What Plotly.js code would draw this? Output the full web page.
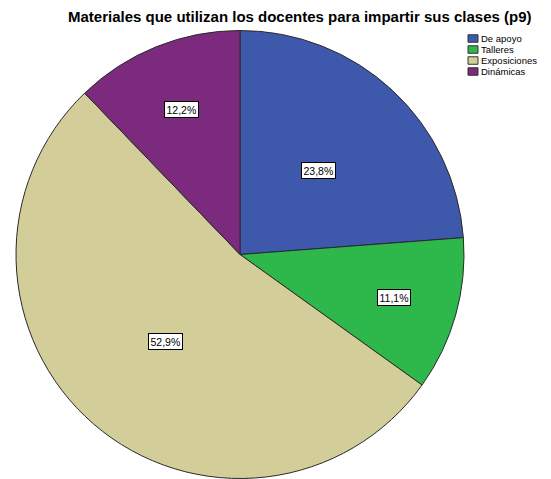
<!DOCTYPE html>
<html>
<head>
<meta charset="utf-8">
<script src="https://cdn.plot.ly/plotly-3.0.1.min.js"></script>
<style>html,body{margin:0;padding:0;background:#fff;}#chart{width:551px;height:479px;}</style>
</head>
<body>
<div id="chart"></div>
<script>
// Data
var categories = ["De apoyo", "Talleres", "Exposiciones", "Dinámicas"];
var values = [23.8, 11.1, 52.9, 12.2];
var colors = ["#3E58AB", "#2EB84B", "#D3CE99", "#7B2A7D"];
var titleText = "Materiales que utilizan los docentes para impartir sus clases (p9)";

// Layout constants
var W = 551, H = 479;
var CX = 240, CY = 254.5, R = 224;
var labelRadius = [0.513, 0.714, 0.511, 0.70]; // fraction of radius where each label box sits

var domX = [(CX - R) / W, (CX + R) / W];
var domY = [1 - (CY + R) / H, 1 - (CY - R) / H];

var trace = {
  type: "pie",
  labels: categories,
  values: values,
  sort: false,
  direction: "clockwise",
  rotation: 0,
  marker: { colors: colors, line: { color: "#2a2a2a", width: 1 } },
  textinfo: "none",
  hoverinfo: "label+percent",
  domain: { x: domX, y: domY },
  showlegend: false
};

var total = values.reduce(function (a, b) { return a + b; }, 0);
var annotations = [];
var shapes = [];
var cum = 0;
values.forEach(function (v, i) {
  var mid = (cum + v / 2) / total * 2 * Math.PI;
  cum += v;
  var d = labelRadius[i] * R;
  var px = CX + Math.sin(mid) * d;
  var py = CY - Math.cos(mid) * d;
  var pct = (v / total * 100).toFixed(1).replace(".", ",") + "%";
  annotations.push({
    x: px / W, y: 1 - py / H, xref: "paper", yref: "paper",
    text: pct, showarrow: false,
    xanchor: "center", yanchor: "middle",
    font: { family: "Arial, 'Liberation Sans', sans-serif", size: 10.5, color: "#000" },
    bgcolor: "#ffffff", bordercolor: "#000000", borderwidth: 1, borderpad: 1.5
  });
});

// custom compact legend
var legX = 468, legY0 = 38.5, legStep = 11, sw = 10, sh = 7.5;
categories.forEach(function (c, i) {
  var yc = legY0 + i * legStep;
  shapes.push({
    type: "rect", xref: "paper", yref: "paper",
    x0: legX / W, x1: (legX + sw) / W,
    y0: 1 - (yc + sh / 2) / H, y1: 1 - (yc - sh / 2) / H,
    fillcolor: colors[i], line: { color: "#333", width: 1 }
  });
  annotations.push({
    x: (legX + sw + 2) / W, y: 1 - yc / H, xref: "paper", yref: "paper",
    text: c, showarrow: false, xanchor: "left", yanchor: "middle",
    font: { family: "Arial, 'Liberation Sans', sans-serif", size: 9.5, color: "#000" },
    borderpad: 0
  });
});

var layout = {
  width: W, height: H,
  margin: { l: 0, r: 0, t: 0, b: 0 },
  paper_bgcolor: "#ffffff",
  title: {
    text: titleText,
    x: 68 / W, xanchor: "left", xref: "container",
    y: 1 - 17 / H, yanchor: "middle", yref: "container",
    font: { family: "Arial, 'Liberation Sans', sans-serif", size: 15, weight: "bold", color: "#000" }
  },
  showlegend: false,
  annotations: annotations,
  shapes: shapes
};

Plotly.newPlot("chart", [trace], layout, { displayModeBar: false, staticPlot: true });
</script>
</body>
</html>
